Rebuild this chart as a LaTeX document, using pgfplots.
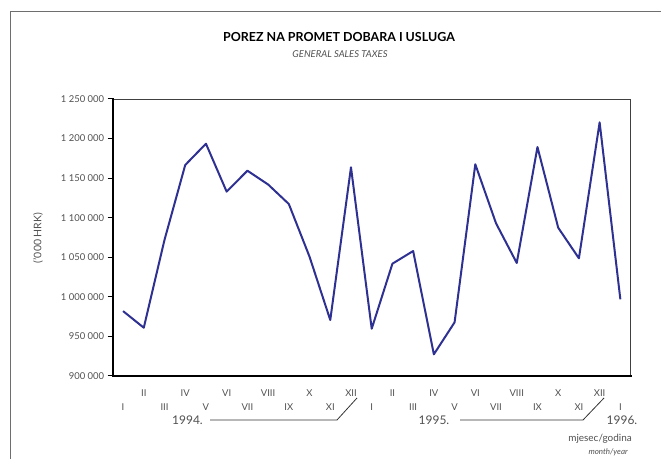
\documentclass[border=0pt]{standalone}
\usepackage{fontspec}
\setmainfont{Lato}
\usepackage{pgfplots}
\pgfplotsset{compat=1.18}
\definecolor{navy}{HTML}{2E3192}
\definecolor{tickg}{HTML}{505050}
\definecolor{frameg}{HTML}{6E6E6E}

\begin{document}
\begin{tikzpicture}[x=1bp,y=1bp]
\useasboundingbox (0,0) rectangle (661,459);
% outer frame
\draw[frameg, line width=1bp] (10,0) -- (10,447) -- (661,447);
% titles
\node[font=\bfseries\fontsize{12.5}{14}\selectfont] at (339,422) {POREZ NA PROMET DOBARA I USLUGA};
\node[font=\itshape\fontsize{9.5}{11}\selectfont, text=tickg] at (340,405) {GENERAL SALES TAXES};
% y label
\node[rotate=90, font=\fontsize{10.5}{12}\selectfont, text=tickg] at (38,221) {('000 HRK)};

\begin{axis}[
  at={(112.7bp,83bp)}, anchor=south west,
  scale only axis, width=518bp, height=277bp,
  xmin=-0.5, xmax=24.5, ymin=900000, ymax=1250000,
  axis line style={draw=black!75, line width=0.8bp},
  scaled y ticks=false,
  ytick={900000,950000,1000000,1050000,1100000,1150000,1200000,1250000},
  yticklabels={900 000,950 000,1 000 000,1 050 000,1 100 000,1 150 000,1 200 000,1 250 000},
  ytick pos=left, tick align=outside,
  major tick length=5bp,
  ytick style={draw=black, line width=1bp},
  xtick={0,...,24},
  xtick style={draw=none},
  xticklabels={I,\raisebox{14bp}{II},III,\raisebox{14bp}{IV},V,\raisebox{14bp}{VI},VII,\raisebox{14bp}{VIII},IX,\raisebox{14bp}{X},XI,\raisebox{14bp}{XII},
               I,\raisebox{14bp}{II},III,\raisebox{14bp}{IV},V,\raisebox{14bp}{VI},VII,\raisebox{14bp}{VIII},IX,\raisebox{14bp}{X},XI,\raisebox{14bp}{XII},I},
  xticklabel style={anchor=base, yshift=-30bp},
  tick label style={font=\fontsize{9.5}{11}\selectfont, text=tickg},
  clip=false,
]
\addplot[navy, line width=2bp, line join=round] coordinates {
  (0,982000) (1,961000) (2,1072000) (3,1166600) (4,1193500) (5,1132900)
  (6,1159400) (7,1142000) (8,1117300) (9,1050700) (10,970700) (11,1163700)
  (12,959700) (13,1041900) (14,1057900) (15,927400) (16,967800) (17,1167500)
  (18,1092900) (19,1042800) (20,1189300) (21,1087400) (22,1048700) (23,1220500)
  (24,996900)
};
\draw[black, line width=1.8bp, line cap=rect] (rel axis cs:0,1) -- (rel axis cs:0,0) -- (rel axis cs:1,0);
\end{axis}

% year brackets
\draw[black!80, line width=0.8bp] (210,39) -- (337,39) -- (357,61);
\draw[black!80, line width=0.8bp] (460,39) -- (583,39) -- (604,61);
\node[anchor=base, font=\fontsize{12}{14}\selectfont, text=tickg] at (187.5,34) {1994.};
\node[anchor=base, font=\fontsize{12}{14}\selectfont, text=tickg] at (434,34) {1995.};
\node[anchor=base, font=\fontsize{12}{14}\selectfont, text=tickg] at (622,34) {1996.};
\node[anchor=base east, font=\fontsize{10}{12}\selectfont, text=tickg, inner sep=0pt] at (632,17) {mjesec/godina};
\node[anchor=base east, font=\itshape\fontsize{8}{10}\selectfont, text=tickg, inner sep=0pt] at (628,4) {month/year};
\end{tikzpicture}
\end{document}
